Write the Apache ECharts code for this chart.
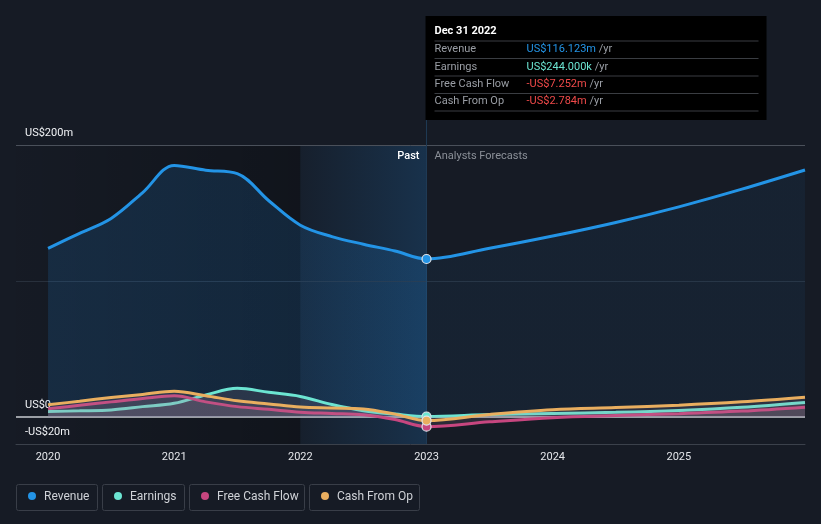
<!DOCTYPE html>
<html>
<head>
<meta charset="utf-8">
<script src="https://cdn.jsdelivr.net/npm/echarts@6/dist/echarts.min.js"></script>
<style>
html,body{margin:0;padding:0;background:#161b25;}
#c{width:821px;height:524px;}
</style>
</head>
<body>
<div id="c"></div>
<script>
// ---- data (values in US$ millions) ----
const years = [2020, 2020.25, 2020.5, 2020.75, 2021, 2021.25, 2021.5, 2021.75, 2022, 2022.25, 2022.5, 2022.75, 2023, 2023.5, 2024, 2024.5, 2025, 2025.5, 2026];
const revenue =        [124, 135, 146, 165, 185, 181.5, 179, 159, 141, 132.6, 127, 122, 116.123, 124, 133, 143, 154.5, 167.5, 181.6];
const earnings =       [3.9, 4.4, 5.1, 7.5, 10, 16, 21, 18, 15, 9, 4.5, 2, 0.244, 1.7, 2.5, 3.3, 4.7, 7.0, 10.5];
const freeCashFlow =   [5.9, 8.5, 11, 13.5, 15.5, 11, 7.5, 5.5, 3.4, 2.5, 1.5, -2, -7.252, -3.7, -0.6, 1.0, 2.3, 4.2, 7.1];
const cashFromOp =     [8.8, 11.5, 14.2, 16.5, 18.8, 15.5, 11.8, 9.5, 7.2, 6.5, 5.8, 2, -2.784, 1.7, 5.2, 6.8, 8.5, 11, 14.4];
const seriesNames = ['Revenue', 'Earnings', 'Free Cash Flow', 'Cash From Op'];
const xTicks = [2020, 2021, 2022, 2023, 2024, 2025];
const yTicks = [-20, 0, 200];
const yGrid = [200, 100];
const tipDate = 'Dec 31 2022';
const tipValues = ['US$116.123m', 'US$244.000k', '-US$7.252m', '-US$2.784m'];
const nowYear = 2023;
const pastStart = 2022;

const colors = ['#2394e6', '#6ce5d2', '#c7467f', '#e9ae5f'];
const tipColors = ['#2394e6', '#6ce5d2', '#f04a4a', '#f04a4a'];

const chart = echarts.init(document.getElementById('c'), null, {renderer: 'canvas'});
const xMin = 2019.746;

function pts(arr){ return years.map((y,i)=>[y, arr[i]]); }
function symSize(v){ return v[0] === nowYear ? 9 : 0; }

function smallSeries(name, arr, color, z){
  return {
    name, type: 'line', data: pts(arr), smooth: 0.35, z,
    symbol: 'circle', symbolSize: symSize, showSymbol: true,
    itemStyle: {color: color, borderColor: '#dfe3e8', borderWidth: 1.2},
    lineStyle: {color: color, width: 3},
    areaStyle: {color: 'rgba(170,140,155,0.22)', origin: 0},
    emphasis: {disabled: true}, silent: true
  };
}

const option = {
  backgroundColor: '#161b25',
  animation: false,
  textStyle: {fontFamily: 'Roboto, sans-serif'},
  grid: {left: 16, right: 16, top: 145, bottom: 80, containLabel: false},
  xAxis: {
    type: 'value', min: xMin, max: 2026,
    axisLine: {show: true, onZero: false, lineStyle: {color: '#3b414b', width: 1}},
    axisTick: {show: false},
    splitLine: {show: false},
    axisLabel: {customValues: xTicks, color: '#e4e6ea', fontSize: 11, margin: 8, formatter: v => String(v)}
  },
  yAxis: {
    type: 'value', min: -20, max: 200,
    axisLine: {show: false}, axisTick: {show: false}, splitLine: {show: false},
    axisLabel: {
      inside: true, customValues: yTicks, color: '#f0f2f5', fontSize: 11, margin: 9,
      verticalAlign: 'bottom', align: 'left', padding: [0,0,6,0],
      formatter: v => v < 0 ? '-US$' + Math.abs(v) + 'm' : (v === 0 ? 'US$0' : 'US$' + v + 'm')
    }
  },
  series: [
    {
      type: 'line', data: [], z: 0, silent: true,
      markArea: {
        silent: true, z: 0,
        data: [
          [{xAxis: xMin, yAxis: -20, itemStyle: {color: new echarts.graphic.LinearGradient(0,0,1,0,[{offset:0,color:'rgba(0,0,0,0.02)'},{offset:1,color:'rgba(0,0,0,0.25)'}])}}, {xAxis: pastStart, yAxis: 200}],
          [{xAxis: pastStart, yAxis: -20, itemStyle: {color: new echarts.graphic.LinearGradient(0,0,1,0,[{offset:0,color:'rgba(33,140,230,0.04)'},{offset:1,color:'rgba(33,140,230,0.2)'}])}}, {xAxis: nowYear, yAxis: 200}]
        ]
      },
      markLine: {
        silent: true, symbol: 'none', label: {show: false}, z: 1,
        data: yGrid.map((v,i)=>({yAxis: v, lineStyle: {color: i===0 ? '#4a505a' : '#28303c', width: 1, type: 'solid'}}))
      }
    },
    {
      type: 'line', data: [], z: 1, silent: true,
      markLine: {
        silent: true, symbol: 'none', label: {show: false}, z: 1,
        data: [{xAxis: nowYear, lineStyle: {color: '#1f3a55', width: 1, type: 'solid'}}]
      }
    },
    {
      name: 'Revenue', type: 'line', data: pts(revenue), smooth: 0.35, z: 2,
      symbol: 'circle', symbolSize: symSize, showSymbol: true,
      itemStyle: {color: colors[0], borderColor: '#dfe3e8', borderWidth: 1.2},
      lineStyle: {color: colors[0], width: 3},
      areaStyle: {origin: 0, color: new echarts.graphic.LinearGradient(0,0,1,0,[
        {offset:0,color:'rgba(33,140,230,0.22)'},{offset:0.5,color:'rgba(33,140,230,0.22)'},
        {offset:0.5008,color:'rgba(33,140,230,0.09)'},{offset:1,color:'rgba(33,140,230,0.09)'}])},
      emphasis: {disabled: true}, silent: true
    },
    smallSeries('Earnings', earnings, colors[1], 3),
    smallSeries('Free Cash Flow', freeCashFlow, colors[2], 4),
    smallSeries('Cash From Op', cashFromOp, colors[3], 5),
    {
      type: 'line', data: [], z: 2, silent: true,
      markLine: {
        silent: true, symbol: 'none', label: {show: false}, z: 2,
        data: [{yAxis: 0, lineStyle: {color: '#c9ccd1', width: 1.5, type: 'solid'}}]
      }
    }
  ]
};
chart.setOption(option);

// annotations
const nowX = chart.convertToPixel({gridIndex: 0}, [nowYear, 0])[0];
const topY = chart.convertToPixel({gridIndex: 0}, [nowYear, 200])[1];

const g = [];
g.push({type:'line', shape:{x1:nowX, y1:120, x2:nowX, y2:topY}, style:{stroke:'#1f3a55', lineWidth:1}, z: 1});
g.push({type:'text', x: nowX - 7, y: topY + 11, style:{text:'Past', fill:'#ffffff', font:'500 11px Roboto', align:'right', verticalAlign:'middle'}, z: 50});
g.push({type:'text', x: nowX + 8, y: topY + 11, style:{text:'Analysts Forecasts', fill:'#8b9098', font:'11px Roboto', align:'left', verticalAlign:'middle'}, z: 50});

// tooltip box
const bx = nowX - 1, by = 16, bw = 341, bh = 104;
g.push({type:'rect', shape:{x:bx, y:by, width:bw, height:bh}, style:{fill:'#000000'}, z: 60});
g.push({type:'text', x: bx + 9, y: 31, style:{text: tipDate, fill:'#ffffff', font:'bold 11px Roboto', verticalAlign:'middle'}, z: 61});
const sepY = [41, 58.5, 76, 93.5, 111];
sepY.forEach(y => g.push({type:'line', shape:{x1:bx+9, y1:y, x2:bx+bw-8, y2:y}, style:{stroke:'#3a3d42', lineWidth:1}, z: 61}));
seriesNames.forEach((n,i) => {
  const cy = 49.5 + i*17.4;
  g.push({type:'text', x: bx + 9, y: cy, style:{text:n, fill:'#9a9ea5', font:'11px Roboto', verticalAlign:'middle'}, z: 61});
  g.push({type:'text', x: bx + 101, y: cy, style:{
    text: '{v|' + tipValues[i] + '} {u|/yr}', verticalAlign:'middle', font:'11px Roboto',
    rich: {v:{fill: tipColors[i], font:'11px Roboto'}, u:{fill:'#9a9ea5', font:'11px Roboto'}}
  }, z: 61});
});

// legend boxes
const legX = [16, 102, 189, 309];
const legW = [81, 82, 115, 110];
seriesNames.forEach((n,i) => {
  g.push({type:'rect', shape:{x:legX[i]+0.5, y:484.5, width:legW[i], height:26, r:2}, style:{fill:'none', stroke:'#393e48', lineWidth:1}, z: 40});
  g.push({type:'circle', shape:{cx:legX[i]+16, cy:496, r:4}, style:{fill:colors[i]}, z: 41});
  g.push({type:'text', x: legX[i]+28, y: 496.5, style:{text:n, fill:'#cfd2d7', font:'12px Roboto', verticalAlign:'middle'}, z: 41});
});
chart.setOption({graphic: g});
</script>
</body>
</html>
